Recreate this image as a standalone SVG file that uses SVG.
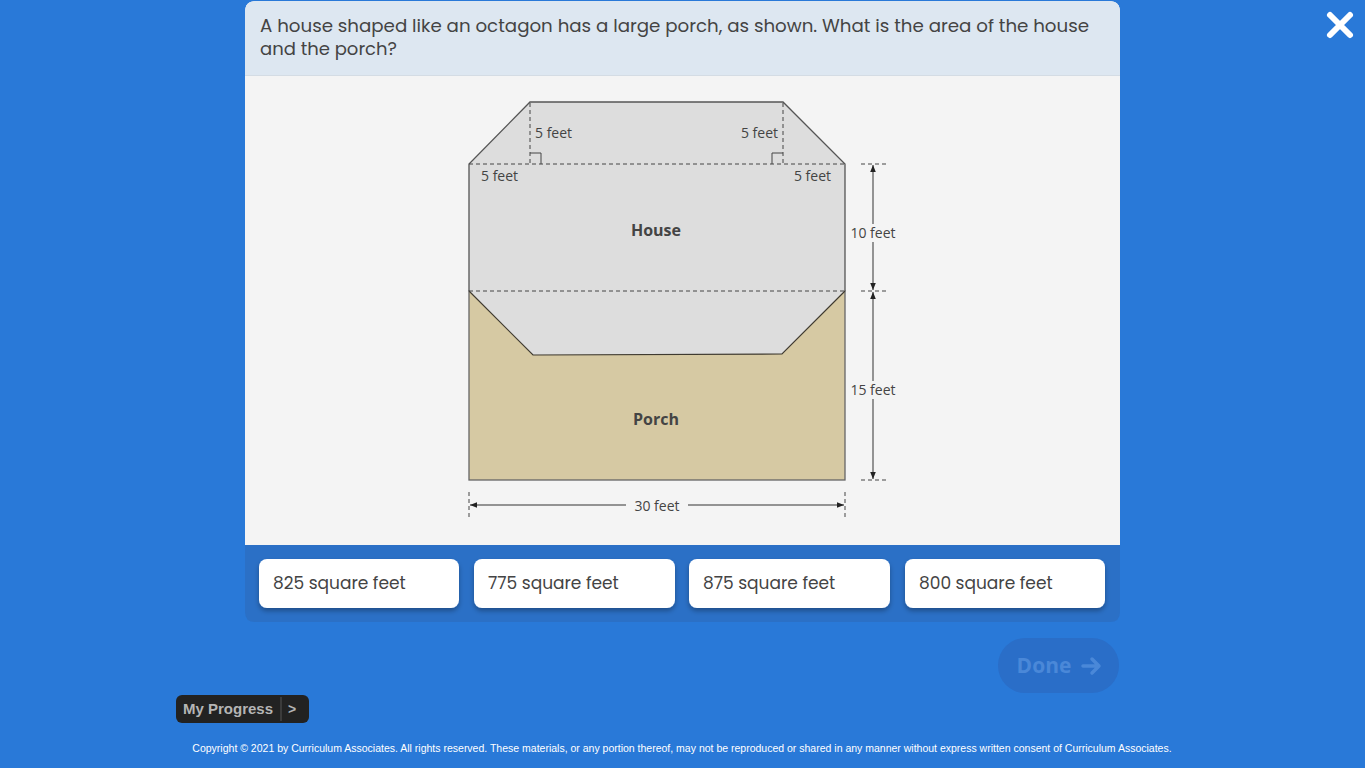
<svg xmlns="http://www.w3.org/2000/svg" width="1365" height="768" viewBox="0 0 1365 768">
<defs>
<style>
.lbl{font-family:"Open Sans","Noto Sans",sans-serif;font-size:14px;fill:#444}
.bold{font-family:"Open Sans","Noto Sans",sans-serif;font-size:16px;font-weight:bold;fill:#444}
.ans{font-family:"Poppins","Open Sans","Noto Sans",sans-serif;font-size:17px;fill:#444;font-weight:400}
.q{font-family:"Poppins","Open Sans","Noto Sans",sans-serif;font-size:18px;fill:#444;font-weight:400}
.dash{stroke:#444;stroke-width:1;stroke-dasharray:4 3;fill:none}
.dim{stroke:#333;stroke-width:1;fill:none}
.edge{stroke:#555;stroke-width:1.3;fill:none}
</style>
<marker id="ah" viewBox="0 0 10 10" refX="10" refY="5" markerWidth="7" markerHeight="7" orient="auto-start-reverse" markerUnits="userSpaceOnUse">
<path d="M0,1 L10,5 L0,9 Z" fill="#222"/>
</marker>
<filter id="sh" x="-10%" y="-20%" width="120%" height="150%">
<feDropShadow dx="0" dy="3" stdDeviation="2.5" flood-color="#000" flood-opacity="0.3"/>
</filter>
</defs>
<rect width="1365" height="768" fill="#2979d8"/>
<g id="close">
<path d="M1330,15 L1350,35 M1350,15 L1330,35" stroke="#fff" stroke-width="6" stroke-linecap="round"/>
</g>
<g id="card">
<path d="M245,545 L245,12 Q245,1 256,1 L1109,1 Q1120,1 1120,12 L1120,545 Z" fill="#f4f4f4"/>
<path d="M245,75 L245,12 Q245,1 256,1 L1109,1 Q1120,1 1120,12 L1120,75 Z" fill="#dde7f1"/>
<line x1="245" y1="75.5" x2="1120" y2="75.5" stroke="#d4dce4"/>
<text class="q" x="260" y="32" textLength="829" lengthAdjust="spacingAndGlyphs">A house shaped like an octagon has a large porch, as shown. What is the area of the house</text>
<text class="q" x="260" y="55">and the porch?</text>
<path d="M245,545 L1120,545 L1120,612 Q1120,622 1110,622 L255,622 Q245,622 245,612 Z" fill="#2b70c6"/>
</g>
<g id="porch">
<rect x="469" y="291" width="376" height="189" fill="#d6c9a3" stroke="#666" stroke-width="1.3"/>
</g>
<g id="house">
<polygon points="530,102 783,102 845,164 845,291 782,354 533,355 469,291 469,164" fill="#dddddd"/>
<path class="edge" d="M469,291 L469,164 L530,102 L783,102 L845,164 L845,291"/>
<path d="M469,291 L533,355 L782,354 L845,291" stroke="#3f3a30" stroke-width="1.2" fill="none"/>
<line class="dash" x1="469" y1="164" x2="845" y2="164"/>
<line class="dash" x1="469" y1="291" x2="845" y2="291"/>
<line class="dash" x1="530" y1="103" x2="530" y2="164"/>
<line class="dash" x1="783" y1="103" x2="783" y2="164"/>
<path d="M530,153 L541,153 L541,164" stroke="#444" fill="none"/>
<path d="M783,153 L772,153 L772,164" stroke="#444" fill="none"/>
<text class="lbl" x="535" y="138">5 feet</text>
<text class="lbl" x="778" y="138" text-anchor="end">5 feet</text>
<text class="lbl" x="481" y="181">5 feet</text>
<text class="lbl" x="831" y="181" text-anchor="end">5 feet</text>
<text class="bold" x="656" y="236" text-anchor="middle">House</text>
<text class="bold" x="656" y="425" text-anchor="middle">Porch</text>
</g>
<g id="connectors">
<line class="dash" x1="861" y1="164" x2="886" y2="164"/>
<line class="dash" x1="861" y1="291" x2="886" y2="291"/>
<line class="dash" x1="861" y1="480" x2="886" y2="480"/>
<line class="dim" x1="873" y1="165" x2="873" y2="224" marker-start="url(#ah)"/>
<line class="dim" x1="873" y1="242" x2="873" y2="290" marker-end="url(#ah)"/>
<line class="dim" x1="873" y1="292" x2="873" y2="381" marker-start="url(#ah)"/>
<line class="dim" x1="873" y1="399" x2="873" y2="479" marker-end="url(#ah)"/>
<line class="dash" x1="469" y1="492" x2="469" y2="518"/>
<line class="dash" x1="845" y1="492" x2="845" y2="518"/>
<line class="dim" x1="470" y1="505" x2="626" y2="505" marker-start="url(#ah)"/>
<line class="dim" x1="688" y1="505" x2="844" y2="505" marker-end="url(#ah)"/>
<text class="lbl" x="873" y="238" text-anchor="middle">10 feet</text>
<text class="lbl" x="873" y="395" text-anchor="middle">15 feet</text>
<text class="lbl" x="657" y="511" text-anchor="middle">30 feet</text>
</g>
<g id="answers">
<rect x="259" y="559" width="200" height="49" rx="8" fill="#fff" filter="url(#sh)"/>
<rect x="474" y="559" width="201" height="49" rx="8" fill="#fff" filter="url(#sh)"/>
<rect x="689" y="559" width="201" height="49" rx="8" fill="#fff" filter="url(#sh)"/>
<rect x="905" y="559" width="200" height="49" rx="8" fill="#fff" filter="url(#sh)"/>
<text class="ans" x="273" y="589">825 square feet</text>
<text class="ans" x="488" y="589">775 square feet</text>
<text class="ans" x="703" y="589">875 square feet</text>
<text class="ans" x="919" y="589">800 square feet</text>
</g>
<g id="done">
<rect x="998" y="638" width="121" height="55" rx="27" fill="#2a6ec8"/>
<text x="1044" y="673" text-anchor="middle" font-family="'Open Sans','Noto Sans',sans-serif" font-size="21" font-weight="bold" fill="#4a88d8">Done</text>
<path d="M1083,666 L1099,666 M1092,659 L1099,666 L1092,673" stroke="#4a88d8" stroke-width="3.5" fill="none" stroke-linecap="round" stroke-linejoin="round"/>
</g>
<g id="progress">
<rect x="176" y="695" width="133" height="28" rx="6" fill="#222"/>
<line x1="281" y1="697" x2="281" y2="721" stroke="#555"/>
<text x="183" y="714" font-family="'Liberation Sans',Arial,sans-serif" font-size="15" font-weight="bold" fill="#b5b5b5">My Progress</text>
<text x="288" y="714" font-family="'Liberation Sans',Arial,sans-serif" font-size="14" font-weight="bold" fill="#b5b5b5">&gt;</text>
</g>
<text x="682" y="752" text-anchor="middle" font-family="'Liberation Sans',Arial,sans-serif" font-size="10.5" fill="#fff">Copyright © 2021 by Curriculum Associates. All rights reserved. These materials, or any portion thereof, may not be reproduced or shared in any manner without express written consent of Curriculum Associates.</text>
</svg>
